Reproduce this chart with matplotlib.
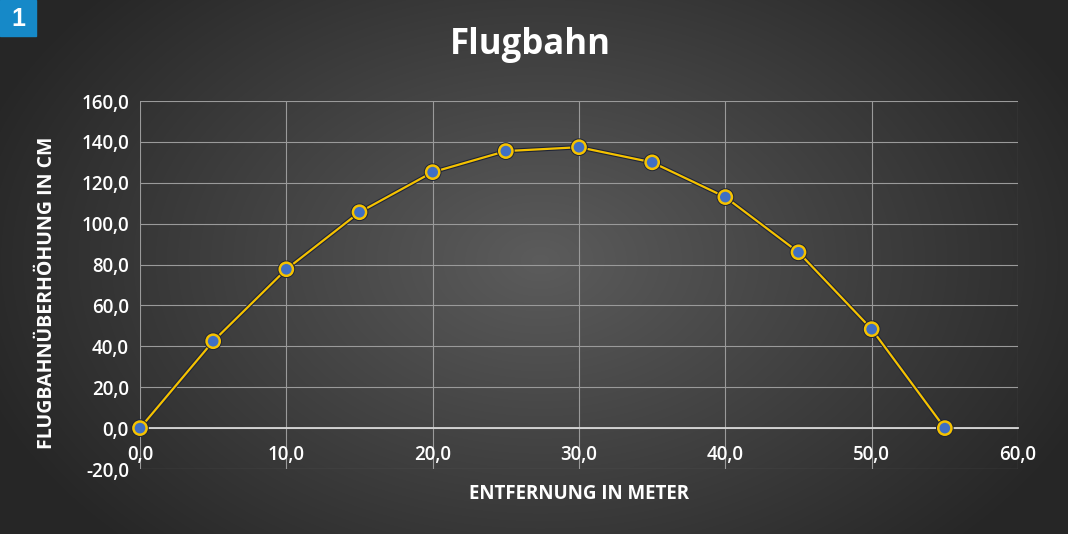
import numpy as np
import matplotlib
matplotlib.use("Agg")
import matplotlib.pyplot as plt
import matplotlib.patheffects as pe

# Flugbahn data (distance in m, rise in cm)
entfernung = [0, 5, 10, 15, 20, 25, 30, 35, 40, 45, 50, 55]
ueberhoehung = [0.0, 42.5, 77.7, 105.6, 125.2, 135.5, 137.4, 130.0, 113.0, 86.0, 48.4, 0.0]
x_ticks = [0, 10, 20, 30, 40, 50, 60]
y_ticks = [-20, 0, 20, 40, 60, 80, 100, 120, 140, 160]

plt.rcParams['font.family'] = ['Open Sans', 'DejaVu Sans']

fig = plt.figure(figsize=(10.68, 5.34), dpi=100)

# radial gradient background
bg = fig.add_axes([0, 0, 1, 1], zorder=-10)
yy, xx = np.mgrid[0:534, 0:1068]
r = np.sqrt(((xx - 540) / 620.0) ** 2 + ((yy - 260) / 420.0) ** 2)
shade = np.clip(0.36 - 0.22 * r, 0.15, 0.36)
bg.imshow(np.dstack([shade, shade, shade]), aspect='auto', extent=[0, 1, 0, 1])
bg.set_axis_off()

# badge "1"
fig.patches.append(plt.Rectangle((0, 1 - 36 / 534), 36 / 1068, 36 / 534,
                                 transform=fig.transFigure, color='#1689c8', zorder=5))
fig.text(18 / 1068, 1 - 19 / 534, '1', color='white', fontsize=18, fontweight='bold',
         ha='center', va='center', family='Liberation Sans', zorder=6)

ax = fig.add_axes([140 / 1068, 1 - 469 / 534, 878 / 1068, 368 / 534])
ax.patch.set_alpha(0)

ax.plot(entfernung, ueberhoehung, color='#f5c200', lw=1.6, marker='o', ms=9.5,
        mfc='#3f6fc4', mec='#f5c200', mew=1.8, zorder=4, clip_on=False,
        path_effects=[pe.Stroke(linewidth=3.2, foreground='#1e2438'), pe.Normal()])

ax.set_xlim(0, 60)
ax.set_ylim(-20, 160)
ax.set_xticks(x_ticks)
ax.set_yticks(y_ticks)
ax.set_xticklabels([f'{v:.1f}'.replace('.', ',') for v in x_ticks])
ax.set_yticklabels([f'{v:.1f}'.replace('.', ',') for v in y_ticks])
ax.grid(True, color='#9a9a9a', lw=0.8)
ax.set_axisbelow(True)

for s in ['top', 'right', 'left']:
    ax.spines[s].set_visible(False)
ax.spines['bottom'].set_position(('data', 0))
ax.spines['bottom'].set_color('#d8d8d8')
ax.spines['bottom'].set_linewidth(1.3)
ax.tick_params(axis='both', length=0, colors='white', labelsize=13.5)
for lab in ax.get_xticklabels() + ax.get_yticklabels():
    lab.set_fontweight('semibold')
ax.tick_params(axis='x', pad=12)
ax.tick_params(axis='y', pad=8)

ax.set_xlabel('ENTFERNUNG IN METER', color='white', fontsize=13.5, fontweight='bold')
ax.xaxis.set_label_coords(0.5, -0.04)
ax.set_ylabel('FLUGBAHNÜBERHÖHUNG IN CM', color='white', fontsize=14, fontweight='bold')
ax.yaxis.set_label_coords(-0.095, 0.48)

fig.text(530 / 1068, 1 - 45 / 534, 'Flugbahn', color='white', fontsize=25,
         fontweight='bold', ha='center', va='center')

fig.savefig('out.png', dpi=100)
